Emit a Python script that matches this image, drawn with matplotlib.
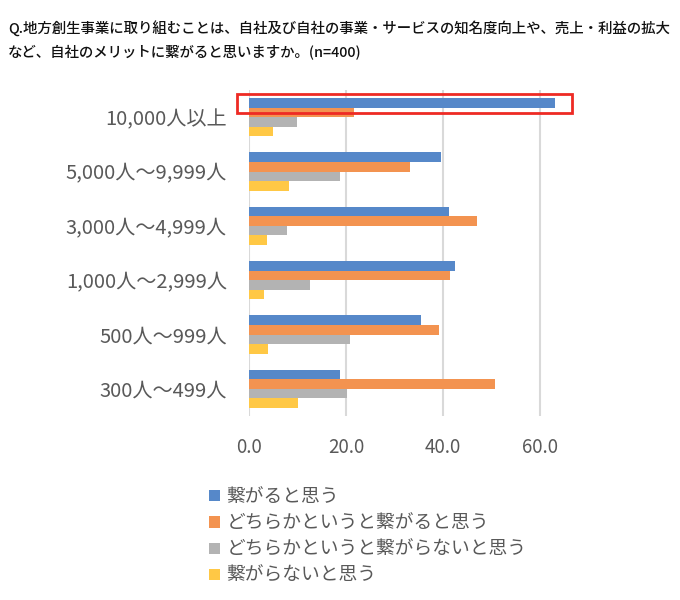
import matplotlib.pyplot as plt
import numpy as np
from matplotlib.patches import Rectangle

plt.rcParams['font.family'] = ['Noto Sans CJK JP', 'DejaVu Sans']

categories = ['10,000人以上', '5,000人〜9,999人', '3,000人〜4,999人',
              '1,000人〜2,999人', '500人〜999人', '300人〜499人']
series_names = ['繋がると思う', 'どちらかというと繋がると思う',
                'どちらかというと繋がらないと思う', '繋がらないと思う']
tsunagaru = [63.2, 39.6, 41.2, 42.6, 35.5, 18.7]
dochira_tsunagaru = [21.6, 33.3, 47.1, 41.5, 39.3, 50.7]
dochira_tsunagaranai = [9.9, 18.7, 7.8, 12.5, 20.9, 20.2]
tsunagaranai = [4.9, 8.3, 3.8, 3.0, 3.9, 10.1]
xticks = [0, 20, 40, 60]

colors = ['#5688C9', '#F39350', '#B3B3B3', '#FFC845']
series = [tsunagaru, dochira_tsunagaru, dochira_tsunagaranai, tsunagaranai]

fig = plt.figure(figsize=(6.8, 6.0), dpi=100)
ax = fig.add_axes([249 / 680, 1 - 416 / 600, (588 - 249) / 680, (416 - 90) / 600])

n = len(categories)
y = np.arange(n)  # 0 = top
h = 0.175
for i, (vals, c, name) in enumerate(zip(series, colors, series_names)):
    ax.barh(y + (i - 1.5) * h, vals, height=h, color=c, label=name, zorder=3)

ax.set_ylim(n - 0.5, -0.5)
ax.set_xlim(0, 70)
ax.set_xticks(xticks)
ax.set_xticklabels([f'{v:.1f}' for v in xticks])
ax.set_yticks(y)
ax.set_yticklabels(categories)
ax.tick_params(axis='both', length=0, colors='#595959')
ax.tick_params(axis='x', pad=15, labelsize=13.5)
ax.tick_params(axis='y', pad=16, labelsize=14.5)
for s in ax.spines.values():
    s.set_visible(False)
ax.grid(axis='x', color='#d9d9d9', linewidth=1.5, zorder=0)

# red highlight box around the top bar
ax.add_patch(Rectangle((-2.5, y[0] - 1.5 * h - 0.17), 69.2, 0.35, fill=False,
                       edgecolor='#ee2a24', linewidth=2, clip_on=False, zorder=5))

fig.text(0.012, 0.951, 'Q.地方創生事業に取り組むことは、自社及び自社の事業・サービスの知名度向上や、売上・利益の拡大',
         fontsize=10.4, color='#111111', fontweight='medium', va='center')
fig.text(0.012, 0.914, 'など、自社のメリットに繋がると思いますか。(n=400)',
         fontsize=10.4, color='#111111', fontweight='medium', va='center')

leg = fig.legend(loc='upper left', bbox_to_anchor=(200 / 680, 1 - 477 / 600),
                 frameon=False, fontsize=13.5, handlelength=0.55, handleheight=0.55,
                 handletextpad=0.35, labelspacing=0.28, borderpad=0)
for t in leg.get_texts():
    t.set_color('#595959')

fig.savefig('out.png', dpi=100)
